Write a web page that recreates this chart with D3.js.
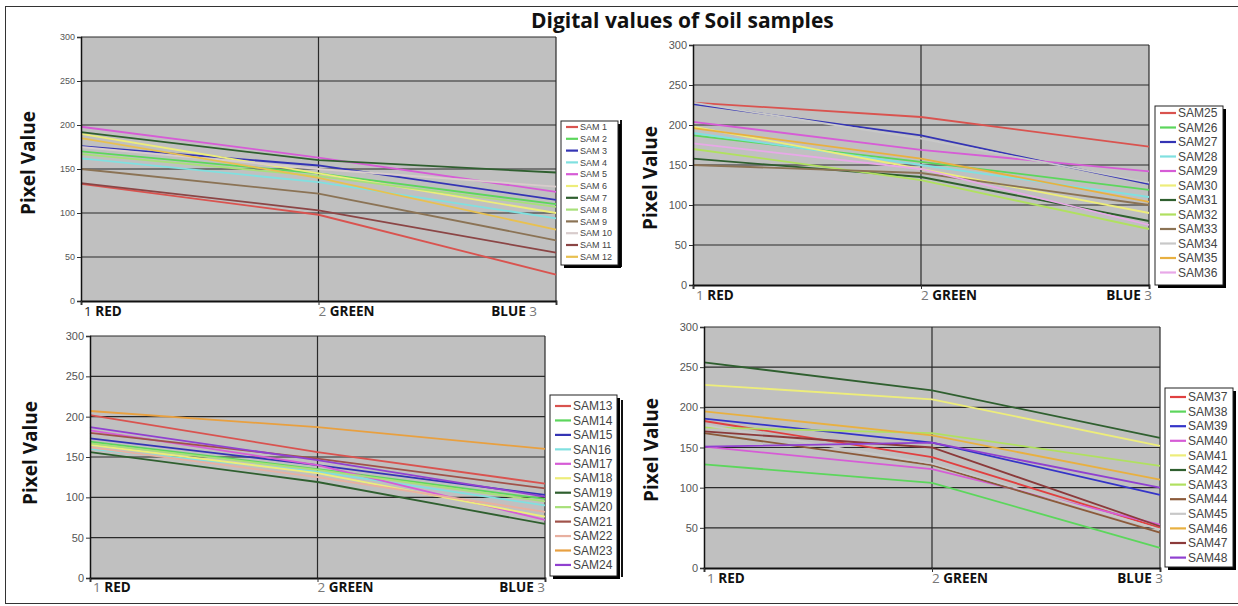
<!DOCTYPE html>
<html><head><meta charset="utf-8">
<script src="https://cdn.jsdelivr.net/npm/d3@7"></script>
<style>body{margin:0;background:#fff}svg{display:block}</style>
</head><body>
<svg id="c" width="1238" height="606"></svg>
<script>
// ---- data ----
const title = "Digital values of Soil samples";
const categories = ["RED", "GREEN", "BLUE"];
const categoryNumbers = ["1", "2", "3"];
const yTicks = [0, 50, 100, 150, 200, 250, 300];
const yLabel = "Pixel Value";

const names1 = ["SAM 1","SAM 2","SAM 3","SAM 4","SAM 5","SAM 6","SAM 7","SAM 8","SAM 9","SAM 10","SAM 11","SAM 12"];
const values1 = [[133,98,30],[170,145,110],[176,154,115],[162,135,94],[198,163,124],[190,145,100],[192,160,146],[167,142,107],[150,122,69],[175,150,130],[134,103,55],[185,140,81]];

const names2 = ["SAM25","SAM26","SAM27","SAM28","SAM29","SAM30","SAM31","SAM32","SAM33","SAM34","SAM35","SAM36"];
const values2 = [[228,210,173],[187,154,119],[226,187,126],[190,150,110],[204,169,142],[198,145,90],[158,135,80],[170,131,70],[150,140,100],[228,183,128],[196,158,104],[177,145,75]];

const names3 = ["SAM13","SAM14","SAM15","SAN16","SAM17","SAM18","SAM19","SAM20","SAM21","SAM22","SAM23","SAM24"];
const values3 = [[202,156,117],[169,135,98],[173,140,103],[160,132,90],[183,140,72],[165,130,76],[156,119,67],[167,134,95],[180,148,111],[162,125,82],[207,187,160],[187,146,101]];

const names4 = ["SAM37","SAM38","SAM39","SAM40","SAM41","SAM42","SAM43","SAM44","SAM45","SAM46","SAM47","SAM48"];
const values4 = [[183,138,50],[129,106,25],[186,156,91],[151,123,54],[228,210,152],[256,221,162],[175,168,127],[168,128,44],[178,130,48],[195,165,110],[170,150,52],[151,156,100]];

// ---- styles ----
const colors1 = ["#d9534f","#5cd65c","#3434b4","#80e0e0","#d65cd6","#eded7a","#2f5f2f","#a8e07a","#8b7355","#d8cccc","#8b4545","#e8c050"];
const colors2 = ["#d9534f","#5cd65c","#3434b4","#80e0e0","#d65cd6","#eded7a","#2f5f2f","#b0e060","#8b7355","#c8c8c8","#e8b040","#e8a8e8"];
const colors3 = ["#d9534f","#5cd65c","#3434b4","#80e0e0","#d65cd6","#eded7a","#2f5f2f","#a8e07a","#a0524a","#e8b0a0","#e8a040","#9040d0"];
const colors4 = ["#e04040","#5cd65c","#3434c8","#d65cd6","#eded7a","#2f5f2f","#b0e060","#8b5a3a","#c8c8c8","#e8b040","#8b3a3a","#9040d0"];

const panels = [
  {names:names1, values:values1, colors:colors1, x0:81, x1:556, yT:37, yB:301, lg:{x:561,y:121,w:57,h:144,first:127,step:11.8,fs:9,line:12},
   yl:{x:28,cy:163}, catY:316, tickFs:9, blueEnd:537, numColor:"#222"},
  {names:names2, values:values2, colors:colors2, x0:693, x1:1149, yT:45, yB:285, lg:{x:1155,y:106,w:68,h:179,first:113,step:14.5,fs:12,line:16},
   yl:{x:650,cy:178}, catY:300, tickFs:11, blueEnd:1152, numColor:"#777"},
  {names:names3, values:values3, colors:colors3, x0:90, x1:545, yT:336, yB:578, lg:{x:550,y:395,w:67,h:181,first:406,step:14.45,fs:12,line:16},
   yl:{x:30,cy:453}, catY:592, tickFs:11, blueEnd:545, numColor:"#777"},
  {names:names4, values:values4, colors:colors4, x0:704, x1:1160, yT:327, yB:568, lg:{x:1165,y:388,w:68,h:179,first:397,step:14.6,fs:12,line:16},
   yl:{x:651,cy:450}, catY:583, tickFs:11, blueEnd:1163, numColor:"#777"}
];

const svg = d3.select("#c");

// outer frame
svg.append("rect").attr("x",5.5).attr("y",6.5).attr("width",1240).attr("height",597)
  .attr("fill","none").attr("stroke","#333").attr("stroke-width",1);
// separator fragments
svg.append("line").attr("x1",621).attr("x2",621).attr("y1",120).attr("y2",267).attr("stroke","#111").attr("stroke-width",2);
svg.append("line").attr("x1",622).attr("x2",622).attr("y1",400).attr("y2",577).attr("stroke","#111").attr("stroke-width",2);

svg.append("text").attr("x",531).attr("y",28).attr("font-family","Open Sans, sans-serif")
  .attr("font-weight","bold").attr("font-size",21).attr("fill","#111").text(title);

panels.forEach(p => {
  const g = svg.append("g");
  const x = d3.scalePoint().domain(categories).range([p.x0, p.x1]).padding(0);
  const y = d3.scaleLinear().domain([0, 300]).range([p.yB, p.yT]);

  g.append("rect").attr("x",p.x0).attr("y",p.yT).attr("width",p.x1-p.x0).attr("height",p.yB-p.yT)
    .attr("fill","#c0c0c0");
  // grid
  g.selectAll(".gh").data(yTicks.slice(1)).join("line")
    .attr("x1",p.x0).attr("x2",p.x1).attr("y1",d=>y(d)).attr("y2",d=>y(d))
    .attr("stroke","#2a2a2a").attr("stroke-width",1.2);
  g.selectAll(".gv").data(categories.slice(1)).join("line")
    .attr("x1",d=>x(d)).attr("x2",d=>x(d)).attr("y1",p.yT).attr("y2",p.yB)
    .attr("stroke","#2a2a2a").attr("stroke-width",1.2);

  // series
  const line = d3.line().x((d,i)=>x(categories[i])).y(d=>y(d));
  p.values.forEach((vals,i)=>{
    g.append("path").attr("d",line(vals)).attr("fill","none")
      .attr("stroke",p.colors[i]).attr("stroke-width",1.8);
  });

  // axes
  const ya = d3.axisLeft(y).tickValues(yTicks).tickSize(4).tickPadding(2);
  const yg = g.append("g").attr("transform",`translate(${p.x0},0)`).call(ya);
  yg.select(".domain").attr("stroke","#111").attr("stroke-width",1.5);
  yg.selectAll(".tick line").attr("stroke","#333");
  yg.selectAll("text").attr("font-family","Liberation Sans, Arial, sans-serif")
    .attr("font-size",p.tickFs).attr("fill","#555");

  const xa = d3.axisBottom(x).tickSize(4).tickFormat("");
  const xg = g.append("g").attr("transform",`translate(0,${p.yB})`).call(xa);
  xg.select(".domain").attr("stroke","#111").attr("stroke-width",1.8);
  xg.selectAll(".tick line").attr("stroke","#333");

  // category labels
  const cf = "Open Sans, sans-serif";
  categories.forEach((c,i)=>{
    const t = g.append("text").attr("y",p.catY).attr("font-family",cf).attr("font-size",13.5);
    if (i < 2) {
      t.attr("x", x(c) + (i===0?3:0));
      t.append("tspan").attr("fill", i===0 ? p.numColor : "#777").text(categoryNumbers[i] + " ");
      t.append("tspan").attr("font-weight","bold").attr("fill","#111").text(c);
    } else {
      t.attr("x", p.blueEnd).attr("text-anchor","end");
      t.append("tspan").attr("font-weight","bold").attr("fill","#111").text(c + " ");
      t.append("tspan").attr("fill","#777").text(categoryNumbers[i]);
    }
  });

  // y label
  g.append("text").attr("transform",`translate(${p.yl.x + 7},${p.yl.cy}) rotate(-90)`)
    .attr("text-anchor","middle").attr("font-family",cf).attr("font-weight","bold")
    .attr("font-size",19).attr("fill","#111").text(yLabel);

  // legend
  const L = p.lg;
  g.append("rect").attr("x",L.x+3).attr("y",L.y+3).attr("width",L.w).attr("height",L.h).attr("fill","#000");
  g.append("rect").attr("x",L.x).attr("y",L.y).attr("width",L.w).attr("height",L.h)
    .attr("fill","#fff").attr("stroke","#222").attr("stroke-width",1);
  const items = g.selectAll(".li").data(p.names).join("g")
    .attr("transform",(d,i)=>`translate(${L.x+5},${L.first + i*L.step})`);
  items.append("line").attr("x1",0).attr("x2",L.line).attr("y1",0).attr("y2",0)
    .attr("stroke",(d,i)=>p.colors[i]).attr("stroke-width",2.2);
  items.append("text").attr("x",L.line+2).attr("y",0).attr("dy","0.35em")
    .attr("font-family","Liberation Sans, Arial, sans-serif").attr("font-size",L.fs)
    .attr("fill","#444").text(d=>d);
});
</script>
</body></html>
